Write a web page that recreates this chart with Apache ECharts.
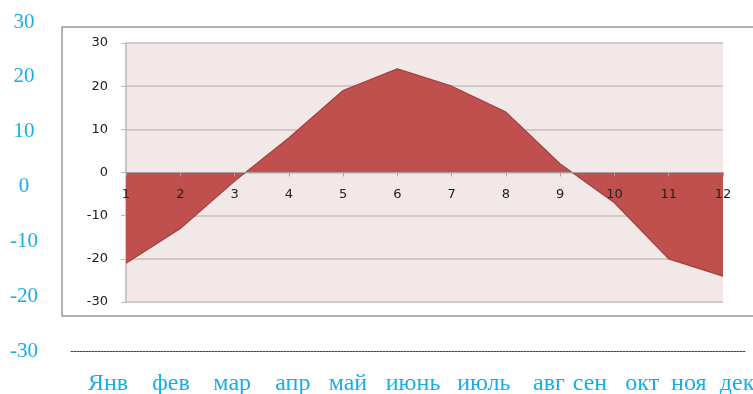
<!DOCTYPE html>
<html>
<head>
<meta charset="utf-8">
<script src="https://cdn.jsdelivr.net/npm/echarts@6/dist/echarts.min.js"></script>
<style>
  html, body { margin: 0; padding: 0; background: #fff; }
  #chart { width: 753px; height: 394px; }
</style>
</head>
<body>
<div id="chart"></div>
<script>
// inner chart: month number -> temperature
var monthNums = ["1", "2", "3", "4", "5", "6", "7", "8", "9", "10", "11", "12"];
var temps = [-21, -13, -2, 8, 19, 24, 20, 14, 2, -7, -20, -24];

// outer scale + russian month names under the picture
var monthNames = ["Янв", "фев", "мар", "апр", "май", "июнь", "июль", "авг", "сен", "окт", "ноя", "дек"];
// where each name sits along the outer axis (0..12 slots)
var monthLabelAt = [0.66, 1.78, 2.87, 3.95, 4.93, 6.09, 7.35, 8.51, 9.24, 10.17, 11.0, 11.86];

var chart = echarts.init(document.getElementById("chart"));

var gray = "#c6bebe";

var option = {
  animation: false,
  grid: [
    // the framed picture box (right side runs off the page)
    { left: 62, top: 27, width: 730, bottom: 78, show: true, backgroundColor: "#fff", borderColor: "#999", borderWidth: 1.5, z: -1, outerBoundsMode: "none" },
    // plot area
    { left: 126, top: 43, right: 30, bottom: 92, show: true, backgroundColor: "#f2e8e8", borderWidth: 0, outerBoundsMode: "none" },
    // outer cyan scale
    { left: 71, top: 22, right: 8, bottom: 43, show: false, outerBoundsMode: "none" }
  ],
  xAxis: [
    {
      gridIndex: 1,
      type: "category",
      data: monthNums,
      boundaryGap: false,
      position: "bottom",
      // sit on the zero line (half way up the -30..30 plot)
      offset: -129.5,
      axisLine: { onZero: false, lineStyle: { color: "#a8a0a0", width: 1 } },
      axisTick: { show: true, length: 4, lineStyle: { color: "#a8a0a0" } },
      axisLabel: { margin: 16, color: "#222", fontFamily: "DejaVu Sans", fontSize: 13, showMinLabel: true, showMaxLabel: true, interval: 0 },
      splitLine: { show: false },
      z: 5
    },
    {
      gridIndex: 2,
      type: "value",
      min: 0,
      max: 12,
      axisLine: { show: true, onZero: false, lineStyle: { color: "#444", width: 1, type: [2, 1] } },
      axisTick: { show: false },
      splitLine: { show: false },
      axisLabel: {
        customValues: monthLabelAt,
        margin: 21,
        color: "#17aee8",
        fontFamily: "Liberation Serif",
        fontSize: 24,
        formatter: function (v) {
          var i = monthLabelAt.indexOf(v);
          return i >= 0 ? monthNames[i] : "";
        }
      }
    }
  ],
  yAxis: [
    {
      gridIndex: 1,
      type: "value",
      min: -30,
      max: 30,
      interval: 10,
      axisLine: { show: true, lineStyle: { color: "#bdb8b8", width: 1.5 } },
      axisTick: { show: true, length: 5, lineStyle: { color: "#bdb8b8" } },
      axisLabel: { margin: 18, color: "#222", fontFamily: "DejaVu Sans", fontSize: 13 },
      splitLine: { show: true, lineStyle: { color: gray, width: 1.5 } }
    },
    {
      gridIndex: 2,
      type: "value",
      min: -30,
      max: 30,
      interval: 10,
      axisLine: { show: false },
      axisTick: { show: false },
      splitLine: { show: false },
      axisLabel: {
        align: "center",
        margin: 47,
        padding: [6, 0, 0, 0],
        color: "#17aee8",
        fontFamily: "Liberation Serif",
        fontSize: 21
      }
    }
  ],
  series: [
    {
      name: "temp",
      type: "line",
      xAxisIndex: 0,
      yAxisIndex: 0,
      data: temps,
      symbol: "none",
      lineStyle: { color: "#a23d3a", width: 1.2 },
      areaStyle: { color: "#c0504d", opacity: 1, origin: 0 },
      z: 2
    }
  ]
};

chart.setOption(option);
</script>
</body>
</html>
